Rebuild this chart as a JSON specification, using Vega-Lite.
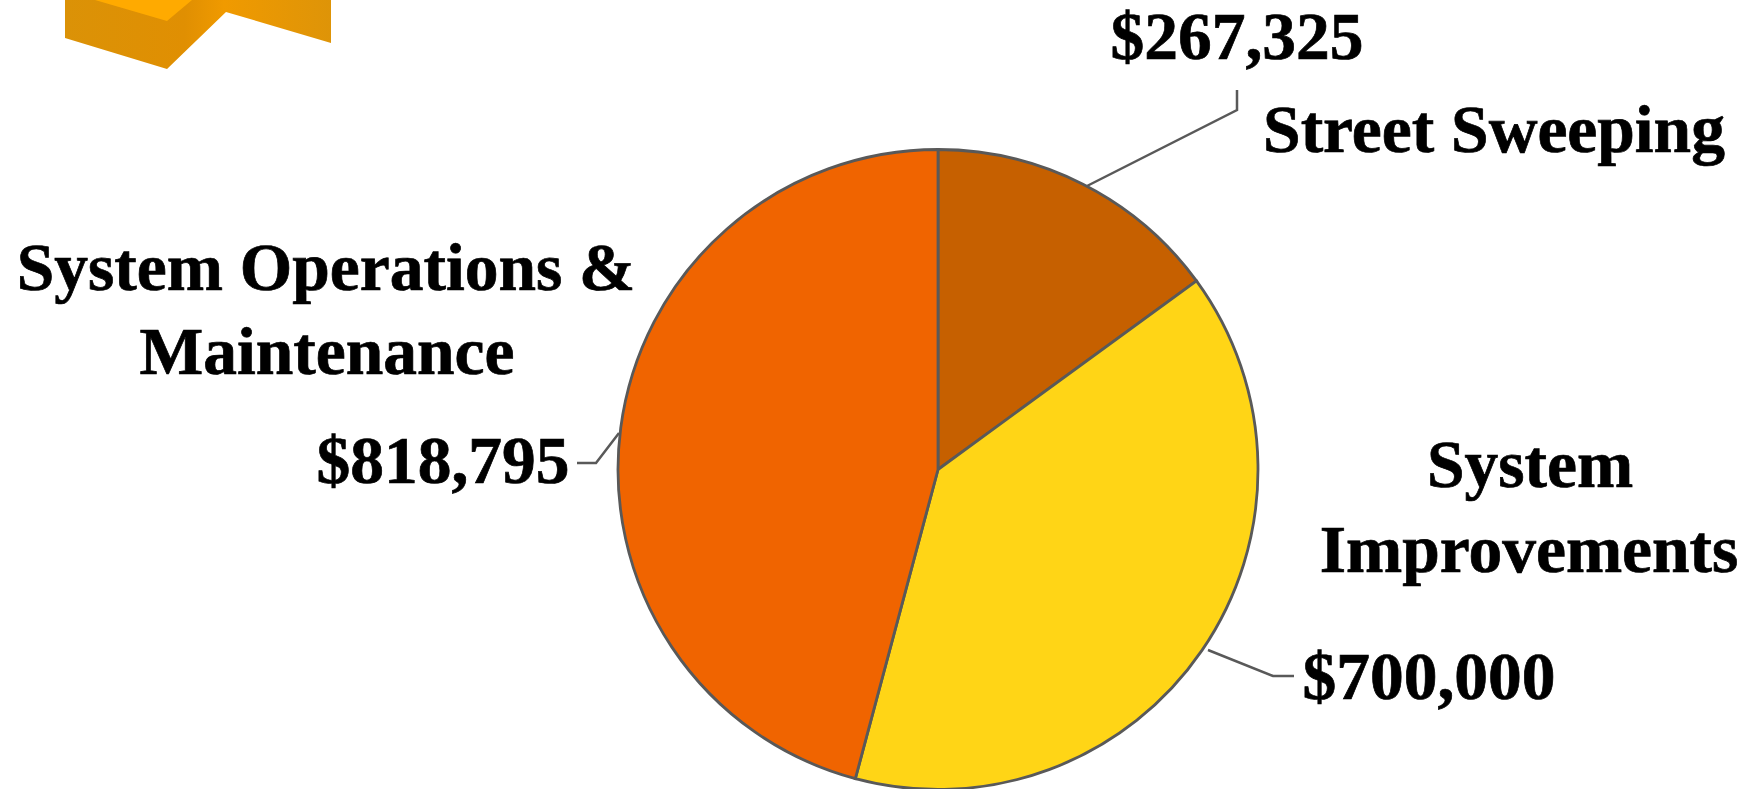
{
  "$schema": "https://vega.github.io/schema/vega-lite/v6.json",
  "width": 1751,
  "height": 789,
  "padding": 0,
  "autosize": {"type": "none"},
  "background": "white",
  "view": {"stroke": null},
  "datasets": {
    "budget": [
      {"program": "Street Sweeping", "amount": 267325, "rank": 1},
      {"program": "System Improvements", "amount": 700000, "rank": 2},
      {"program": "System Operations & Maintenance", "amount": 818795, "rank": 3}
    ],
    "labels": [
      {"text": "$267,325", "px": 1237, "py": 59},
      {"text": "Street Sweeping", "px": 1494, "py": 152},
      {"text": "System Operations &", "px": 326, "py": 290},
      {"text": "Maintenance", "px": 327, "py": 374},
      {"text": "$818,795", "px": 443, "py": 483},
      {"text": "System", "px": 1530, "py": 487},
      {"text": "Improvements", "px": 1529, "py": 572},
      {"text": "$700,000", "px": 1429, "py": 699}
    ],
    "leaders": [
      {"leader": "a", "step": 1, "px": 1085, "py": 187},
      {"leader": "a", "step": 2, "px": 1237, "py": 110},
      {"leader": "a", "step": 3, "px": 1237, "py": 90},
      {"leader": "b", "step": 1, "px": 577, "py": 463},
      {"leader": "b", "step": 2, "px": 596, "py": 463},
      {"leader": "b", "step": 3, "px": 619, "py": 433},
      {"leader": "c", "step": 1, "px": 1208, "py": 650},
      {"leader": "c", "step": 2, "px": 1273, "py": 676},
      {"leader": "c", "step": 3, "px": 1294, "py": 676}
    ],
    "logoBody": [
      {"px": 65, "top": 0, "bottom": 38},
      {"px": 167, "top": 0, "bottom": 69},
      {"px": 226, "top": 0, "bottom": 12},
      {"px": 331, "top": 0, "bottom": 43}
    ],
    "logoTop": [
      {"px": 95, "top": 0, "bottom": 0},
      {"px": 167, "top": 0, "bottom": 21},
      {"px": 192, "top": 0, "bottom": 0}
    ]
  },
  "layer": [
    {
      "data": {"name": "logoBody"},
      "mark": {"type": "area", "color": {"gradient": "linear", "x1": 0, "x2": 1, "y1": 0, "y2": 0, "stops": [{"offset": 0, "color": "#DB9207"}, {"offset": 0.45, "color": "#E08F02"}, {"offset": 0.6, "color": "#F09A00"}, {"offset": 1, "color": "#DE9408"}]}},
      "encoding": {
        "x": {"field": "px", "type": "quantitative", "scale": {"domain": [0, 1751]}, "axis": null},
        "y": {"field": "top", "type": "quantitative", "scale": {"domain": [0, 789], "reverse": true}, "axis": null},
        "y2": {"field": "bottom"}
      }
    },
    {
      "data": {"name": "logoTop"},
      "mark": {"type": "area", "color": "#FFAA00"},
      "encoding": {
        "x": {"field": "px", "type": "quantitative", "scale": {"domain": [0, 1751]}, "axis": null},
        "y": {"field": "top", "type": "quantitative", "scale": {"domain": [0, 789], "reverse": true}, "axis": null},
        "y2": {"field": "bottom"}
      }
    },
    {
      "data": {"name": "leaders"},
      "mark": {"type": "line", "color": "#595959", "strokeWidth": 2.5},
      "encoding": {
        "x": {"field": "px", "type": "quantitative", "scale": {"domain": [0, 1751]}, "axis": null},
        "y": {"field": "py", "type": "quantitative", "scale": {"domain": [0, 789], "reverse": true}, "axis": null},
        "detail": {"field": "leader"},
        "order": {"field": "step"}
      }
    },
    {
      "data": {"name": "budget"},
      "mark": {"type": "arc", "outerRadius": 320, "stroke": "#595959", "strokeWidth": 2.8},
      "encoding": {
        "x": {"datum": 938, "type": "quantitative", "scale": {"domain": [0, 1751]}, "axis": null},
        "y": {"datum": 469.5, "type": "quantitative", "scale": {"domain": [0, 789], "reverse": true}, "axis": null},
        "theta": {"field": "amount", "type": "quantitative", "stack": true},
        "order": {"field": "rank"},
        "color": {"field": "program", "type": "nominal", "legend": null,
          "scale": {"domain": ["Street Sweeping", "System Improvements", "System Operations & Maintenance"], "range": ["#C66000", "#FFD516", "#F06400"]}}
      }
    },
    {
      "data": {"name": "labels"},
      "mark": {"type": "text", "font": "Liberation Serif", "fontWeight": "bold", "fontSize": 67.5, "align": "center", "baseline": "alphabetic", "color": "#000000", "stroke": "#000000", "strokeWidth": 0.7},
      "encoding": {
        "x": {"field": "px", "type": "quantitative", "scale": {"domain": [0, 1751]}, "axis": null},
        "y": {"field": "py", "type": "quantitative", "scale": {"domain": [0, 789], "reverse": true}, "axis": null},
        "text": {"field": "text"}
      }
    }
  ]
}
